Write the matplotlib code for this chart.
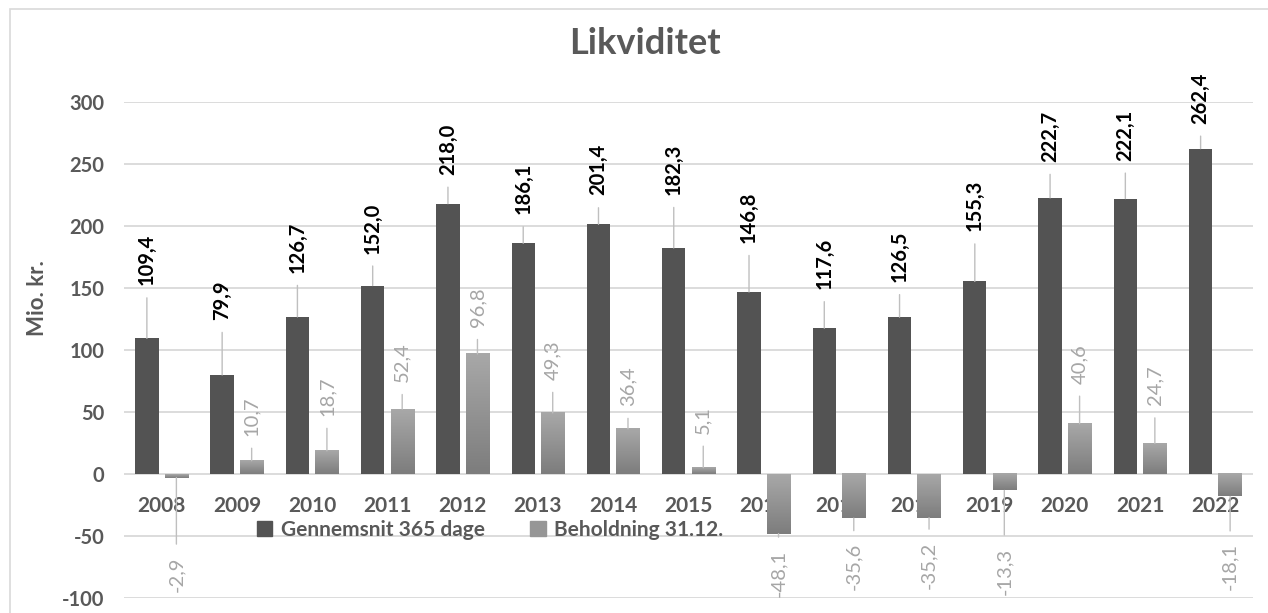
import numpy as np
import matplotlib
matplotlib.use("Agg")
import matplotlib.pyplot as plt
from matplotlib.colors import LinearSegmentedColormap
from matplotlib.patches import Patch, Rectangle

years = [str(y) for y in range(2008, 2023)]
gennemsnit = [109.4, 79.9, 126.7, 152.0, 218.0, 186.1, 201.4, 182.3,
              146.8, 117.6, 126.5, 155.3, 222.7, 222.1, 262.4]
beholdning = [-2.9, 10.7, 18.7, 52.4, 96.8, 49.3, 36.4, 5.1,
              -48.1, -35.6, -35.2, -13.3, 40.6, 24.7, -18.1]

# label distance from bar end, pixels (labels were moved by hand in the original)
dark_gap = [53, 55, 44, 32, 29, 29, 29, 53, 49, 39, 35, 50, 36, 38, 25]
light_gap = [79, 25, 35, 27, 27, 33, 23, 34, 16, 25, 24, 57, 40, 38, 47]

plt.rcParams["font.family"] = ["Lato", "DejaVu Sans"]
TXT = "#595959"
DARK = "#535353"
LINE = "#bfbfbf"

fig = plt.figure(figsize=(12.68, 6.13), dpi=100)
fig.patches.append(Rectangle((10 / 1268, -0.1), 1.2, 1.1 - 9 / 613,
                             transform=fig.transFigure, fill=False,
                             edgecolor="#d9d9d9", lw=1.2))
ax = fig.add_axes([124 / 1268, 1 - 598 / 613, (1253 - 124) / 1268, 496 / 613])
ax.spines["bottom"].set_position(("data", 0))

x = np.arange(len(years))
w = 0.31
off = 0.196

ax.bar(x - off, gennemsnit, w, color=DARK, zorder=2)
light = ax.bar(x + off, beholdning, w, color="none", zorder=2)

cmap = LinearSegmentedColormap.from_list("g", ["#a8a8a8", "#7d7d7d"])
grad = np.linspace(0, 1, 64).reshape(-1, 1)
for p in light:
    x0, y0 = p.get_x(), p.get_y()
    x1, y1 = x0 + p.get_width(), y0 + p.get_height()
    ax.imshow(grad, cmap=cmap, extent=(x0, x1, min(y0, y1), max(y0, y1)),
              aspect="auto", zorder=2, interpolation="bilinear")

fmt = lambda v: f"{v:.1f}".replace(".", ",")

for i, v in enumerate(gennemsnit):
    ax.annotate(fmt(v), xy=(x[i] - off, v), xytext=(0, dark_gap[i]),
                textcoords="offset pixels", rotation=90, ha="center", va="bottom",
                fontsize=14.5, fontweight="bold", color="black",
                arrowprops=dict(arrowstyle="-", color=LINE, lw=1, shrinkA=7, shrinkB=0),
                zorder=4)

for i, v in enumerate(beholdning):
    up = v >= 0
    ax.annotate(fmt(v), xy=(x[i] + off, v), xytext=(0, light_gap[i] if up else -light_gap[i]),
                textcoords="offset pixels", rotation=90, ha="center",
                va="bottom" if up else "top",
                fontsize=14.5, color="#a6a6a6",
                arrowprops=dict(arrowstyle="-", color=LINE, lw=1, shrinkA=7, shrinkB=0),
                zorder=4)

ax.set_xlim(-0.5, len(years) - 0.5)
ax.set_ylim(-100, 300)
yt = list(range(-100, 301, 50))
ax.set_yticks(yt)
ax.set_yticklabels([str(t) for t in yt], fontsize=14.5, fontweight="bold", color=TXT)
ax.set_xticks(x)
ax.set_xticklabels(years, fontsize=15, fontweight="bold", color=TXT)
for s in ax.spines.values():
    s.set_visible(False)
ax.tick_params(axis="x", length=0, pad=16)
ax.tick_params(axis="y", length=0, pad=14)
ax.set_axisbelow(True)
ax.grid(axis="y", color="#d9d9d9", lw=1.3)

fig.text(645 / 1268, 1 - 43 / 613, "Likviditet", ha="center", va="center",
         fontsize=26, fontweight="bold", color=TXT)
fig.text(37 / 1268, 1 - 298 / 613, "Mio. kr.", rotation=90, ha="center", va="center",
         fontsize=16, fontweight="bold", color=TXT)

handles = [Patch(color=DARK), Patch(color="#969696")]
fig.legend(handles, ["Gennemsnit 365 dage", "Beholdning 31.12."],
           loc="center", bbox_to_anchor=(490 / 1268, 1 - 530 / 613), ncol=2,
           frameon=False, handlelength=0.75, handleheight=0.75, handletextpad=0.4,
           columnspacing=2.2, prop=dict(size=15, weight="bold"), labelcolor=TXT)

fig.savefig("out.png", dpi=100)
